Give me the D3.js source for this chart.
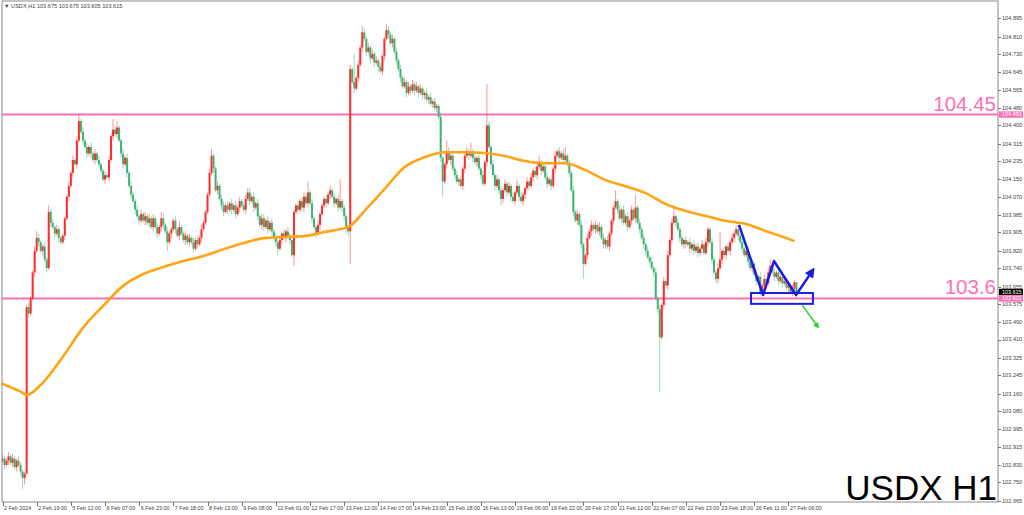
<!DOCTYPE html>
<html>
<head>
<meta charset="utf-8">
<script src="https://cdnjs.cloudflare.com/ajax/libs/d3/7.8.5/d3.min.js"></script>
<style>
  body { margin: 0; background: #fff; }
  svg { display: block; font-family: "Liberation Sans", Arial, sans-serif; }
</style>
</head>
<body>
<svg id="chart" width="1024" height="515"></svg>
<script>
// hourly closes (bar 0 = 2 Feb 2024)
var closes = [
  102.86,102.83,102.85,102.87,102.84,102.86,102.82,102.85,102.83,102.80,
  102.77,102.79,103.56,103.53,103.60,103.72,103.82,103.88,103.86,103.82,
  103.84,103.78,103.74,104.00,103.95,103.93,103.90,103.92,103.88,103.86,
  103.89,103.97,104.07,104.12,104.18,104.24,104.22,104.33,104.42,104.37,
  104.33,104.30,104.27,104.30,104.27,104.24,104.27,104.24,104.22,104.19,
  104.15,104.17,104.16,104.24,104.35,104.38,104.36,104.39,104.33,104.27,
  104.22,104.25,104.18,104.12,104.08,104.05,104.01,103.98,103.96,103.99,
  103.96,103.98,103.95,103.97,103.93,103.97,103.93,103.90,103.93,103.97,
  103.94,103.91,103.86,103.90,103.92,103.96,103.92,103.89,103.93,103.90,
  103.87,103.89,103.86,103.88,103.86,103.83,103.87,103.85,103.88,103.92,
  103.95,104.00,104.08,104.18,104.26,104.20,104.10,104.12,104.06,104.03,
  104.00,104.03,104.01,104.04,104.01,104.03,103.99,104.02,104.05,104.03,
  104.01,104.06,104.09,104.05,104.07,104.02,104.04,103.98,103.94,103.97,
  103.93,103.96,103.92,103.95,103.91,103.88,103.86,103.83,103.87,103.90,
  103.88,103.91,103.89,103.87,103.80,104.00,104.03,104.01,104.05,104.02,
  104.07,104.04,104.09,104.04,103.97,103.93,103.90,103.94,103.99,104.03,
  104.06,104.04,104.08,104.10,104.07,104.04,104.06,104.02,104.05,104.02,
  103.98,103.93,103.91,104.66,104.60,104.57,104.62,104.68,104.76,104.83,
  104.80,104.74,104.76,104.71,104.73,104.69,104.70,104.67,104.65,104.72,
  104.80,104.84,104.82,104.78,104.80,104.74,104.70,104.66,104.62,104.58,
  104.60,104.55,104.58,104.56,104.59,104.56,104.58,104.55,104.57,104.54,
  104.55,104.52,104.53,104.50,104.51,104.48,104.49,104.44,104.25,104.14,
  104.22,104.28,104.24,104.26,104.20,104.17,104.14,104.15,104.12,104.20,
  104.26,104.28,104.26,104.28,104.25,104.23,104.25,104.20,104.17,104.13,
  104.23,104.40,104.30,104.22,104.17,104.12,104.15,104.10,104.06,104.10,
  104.13,104.09,104.12,104.07,104.05,104.09,104.12,104.07,104.05,104.08,
  104.11,104.14,104.12,104.16,104.19,104.17,104.21,104.23,104.19,104.21,
  104.16,104.13,104.15,104.12,104.20,104.26,104.28,104.25,104.27,104.24,
  104.26,104.22,104.18,104.10,104.00,103.96,103.99,103.94,103.85,103.76,
  103.80,103.88,103.91,103.94,103.92,103.94,103.91,103.93,103.88,103.85,
  103.87,103.84,103.90,103.96,104.02,104.05,104.01,103.97,104.01,103.95,
  103.98,103.93,103.96,104.01,103.97,104.02,103.95,103.92,103.88,103.85,
  103.82,103.79,103.77,103.74,103.72,103.60,103.55,103.42,103.57,103.68,
  103.66,103.80,103.87,103.95,103.98,103.95,103.92,103.88,103.85,103.87,
  103.85,103.86,103.83,103.85,103.82,103.84,103.81,103.83,103.85,103.81,
  103.86,103.92,103.86,103.78,103.72,103.69,103.74,103.78,103.82,103.80,
  103.84,103.82,103.86,103.88,103.90,103.92,103.89,103.86,103.83,103.80,
  103.82,103.77,103.74,103.76,103.71,103.68,103.70,103.63,103.66,103.69,
  103.67,103.72,103.75,103.72,103.70,103.72,103.68,103.70,103.67,103.68,
  103.65,103.66,103.63,103.645,103.675,103.615
];
var firstOpen = 102.85;
// wick lengths per bar, one base-36 digit each, in 0.01
var upWick =
  "2112121121" + "1112112321" + "1213121211" + "1112121231" + "2121212121" +
  "1212152311" + "2121211212" + "1212121213" + "2121112131" + "1212121212" +
  "1112311212" + "2121212121" + "1222121212" + "2121212121" + "2121011212" +
  "2151211211" + "12121212a1" + "11121d1213" + "2121212121" + "1321212121" +
  "2121212121" + "1212121121" + "1521212121" + "1214121212" + "1j21212121" +
  "2121213121" + "1212121312" + "1212121212" + "4121212121" + "1212121212" +
  "1211151212" + "1212161212" + "1212121212" + "1212512121" + "2121212121" +
  "2112112d12" + "1212122121" + "1212121212" + "1231212121" + "121210";
var downWick =
  "1212121212" + "5302112121" + "2121212121" + "1212121211" + "2121212121" +
  "1212121212" + "2121212121" + "1212121212" + "2141212121" + "1212121212" +
  "1111121212" + "2121212121" + "1212121212" + "2121212312" + "1212151212" +
  "2121212121" + "1212121212" + "232f121212" + "1212121212" + "2121212121" +
  "1212121212" + "2121212127" + "1212121212" + "2121212121" + "1212121232" +
  "1212121212" + "2121212121" + "1212121212" + "2121212127" + "1212121212" +
  "2121212121" + "1212121212" + "2121212p12" + "1212121212" + "2121212121" +
  "1212122121" + "2121212121" + "1212121212" + "2121212121" + "121211";

var timeLabels = ["2 Feb 2024","2 Feb 19:00","5 Feb 12:00","6 Feb 07:00","6 Feb 23:00",
  "7 Feb 18:00","8 Feb 13:00","9 Feb 08:00","12 Feb 01:00","12 Feb 17:00","13 Feb 12:00",
  "14 Feb 07:00","14 Feb 23:00","15 Feb 18:00","16 Feb 13:00","19 Feb 06:00","19 Feb 22:00",
  "20 Feb 17:00","21 Feb 12:00","22 Feb 07:00","22 Feb 23:00","23 Feb 18:00","26 Feb 11:00",
  "27 Feb 06:00"];
var barsPerLabel = 17;

var priceTicks = [104.895,104.810,104.730,104.645,104.565,104.480,104.400,104.315,104.235,
  104.150,104.070,103.985,103.905,103.820,103.740,103.655,103.575,103.490,103.410,103.325,
  103.245,103.160,103.080,102.995,102.915,102.830,102.750,102.665];

var levels = [104.45, 103.6];
var levelNames = ["104.45", "103.6"];
var lastPrice = 103.615;
var header = "USDX,H1  103.675 103.675 103.605 103.615";
var title = "USDX H1";

// moving average, read at sample bars
var maBars = [-1.25,0,10,12,20,30,40,50,60,70,80,90,100,110,120,130,140,150,160,170,173,
  180,190,200,210,220,230,240,250,260,270,280,290,300,310,320,330,340,350,360,370,380,390,394];
var maValues = [103.210,103.205,103.164,103.154,103.210,103.330,103.464,103.565,103.658,
  103.713,103.745,103.773,103.796,103.828,103.856,103.879,103.884,103.888,103.907,103.925,
  103.935,104.004,104.105,104.207,104.253,104.276,104.276,104.272,104.258,104.235,104.225,
  104.225,104.193,104.147,104.119,104.087,104.036,104.004,103.981,103.958,103.944,103.911,
  103.879,103.865];

// hand drawn pattern
var patternBars = [366.4, 378.4, 383.8, 394.8, 403.2];
var patternPrices = [103.94, 103.616, 103.773, 103.616, 103.731];
var boxBars = [372.4, 403.2];
var boxPrices = [103.625, 103.575];
var arrowBars = [397.8, 405.7];
var arrowPrices = [103.570, 103.468];

var svg = d3.select("#chart");
var pL = 2, pR = 998, pT = 1, pB = 502;

var x = d3.scaleLinear().domain([0, barsPerLabel]).range([2.5, 2.5 + 34.17]);
var y = d3.scaleLinear().domain([102.665, 104.895]).range([500.7, 18.3]);

var bars = closes.map(function(c, i) {
  var o = i === 0 ? firstOpen : closes[i - 1];
  return {
    i: i, o: o, c: c,
    h: Math.max(o, c) + parseInt(upWick[i], 36) / 100,
    l: Math.min(o, c) - parseInt(downWick[i], 36) / 100
  };
});

var defs = svg.append("defs");
defs.append("clipPath").attr("id", "plotclip")
  .append("rect").attr("x", pL).attr("y", pT)
  .attr("width", pR - pL).attr("height", pB - pT);
[["blueHead", "#1c1ce0"], ["greenHead", "#2fcf2f"]].forEach(function(m) {
  defs.append("marker").attr("id", m[0])
    .attr("viewBox", "0 0 10 10").attr("refX", 7).attr("refY", 5)
    .attr("markerWidth", 4).attr("markerHeight", 4).attr("orient", "auto")
    .append("path").attr("d", "M0,0 L10,5 L0,10 z").attr("fill", m[1]);
});

var plot = svg.append("g").attr("clip-path", "url(#plotclip)");

// level lines
plot.selectAll(".level").data(levels).enter().append("line")
  .attr("x1", pL).attr("x2", pR)
  .attr("y1", d => y(d)).attr("y2", d => y(d))
  .attr("stroke", "#ff6fb5").attr("stroke-width", 2);

// candles
var up = "#ff2a2a", down = "#3cb371";
var cg = plot.selectAll(".bar").data(bars).enter().append("g");
cg.append("line")
  .attr("x1", d => x(d.i)).attr("x2", d => x(d.i))
  .attr("y1", d => y(d.h)).attr("y2", d => y(d.l))
  .attr("stroke", d => d.c >= d.o ? up : down)
  .attr("stroke-opacity", 0.5).attr("stroke-width", 1);
cg.append("rect")
  .attr("x", d => x(d.i) - 1).attr("width", 2)
  .attr("y", d => y(Math.max(d.o, d.c)))
  .attr("height", d => Math.max(0.8, Math.abs(y(d.o) - y(d.c))))
  .attr("fill", d => d.c >= d.o ? up : down);

// moving average
plot.append("path")
  .datum(maBars.map((b, k) => [b, maValues[k]]))
  .attr("d", d3.line().x(d => x(d[0])).y(d => y(d[1])).curve(d3.curveMonotoneX))
  .attr("fill", "none").attr("stroke", "#ffa414").attr("stroke-width", 2.6);

// pattern annotation
plot.append("rect")
  .attr("x", x(boxBars[0])).attr("y", y(boxPrices[0]))
  .attr("width", x(boxBars[1]) - x(boxBars[0]))
  .attr("height", y(boxPrices[1]) - y(boxPrices[0]))
  .attr("fill", "none").attr("stroke", "#1c1ce0").attr("stroke-width", 2);
plot.append("path")
  .datum(patternBars.map((b, k) => [b, patternPrices[k]]))
  .attr("d", d3.line().x(d => x(d[0])).y(d => y(d[1])))
  .attr("fill", "none").attr("stroke", "#1c1ce0").attr("stroke-width", 2.5)
  .attr("stroke-linejoin", "round").attr("marker-end", "url(#blueHead)");
plot.append("path")
  .datum(arrowBars.map((b, k) => [b, arrowPrices[k]]))
  .attr("d", d3.line().x(d => x(d[0])).y(d => y(d[1])))
  .attr("fill", "none").attr("stroke", "#2fcf2f").attr("stroke-width", 1.5)
  .attr("marker-end", "url(#greenHead)");

// frame
svg.append("rect").attr("x", pL).attr("y", pT)
  .attr("width", pR - pL).attr("height", pB - pT)
  .attr("fill", "none").attr("stroke", "#8a8a8a").attr("stroke-width", 1);

// price axis
var ya = svg.append("g");
ya.selectAll("line").data(priceTicks).enter().append("line")
  .attr("x1", pR).attr("x2", pR + 3)
  .attr("y1", d => Math.round(y(d)) + 0.5).attr("y2", d => Math.round(y(d)) + 0.5)
  .attr("stroke", "#777");
ya.selectAll("text").data(priceTicks).enter().append("text")
  .attr("x", pR + 4).attr("y", d => y(d)).attr("dy", "0.35em")
  .attr("font-size", 5.6).attr("fill", "#444")
  .text(d => d.toFixed(3));

// price tags (shift: nudges the tag so stacked tags stay readable)
function tag(price, bg, fg, shift) {
  var cy = y(price) + shift;
  var g = svg.append("g");
  g.append("rect").attr("x", pR + 1).attr("y", cy - 3.2)
    .attr("width", 24).attr("height", 6.4).attr("fill", bg);
  g.append("text").attr("x", pR + 4).attr("y", cy).attr("dy", "0.35em")
    .attr("font-size", 5.4).attr("fill", fg).text(price.toFixed(3));
}
tag(lastPrice, "#000", "#fff", -3.2);
levels.forEach(function(l) { tag(l, "#ff6fb5", "#fff", 0); });

// time axis
var xa = svg.append("g");
var tickBars = timeLabels.map((t, k) => k * barsPerLabel);
xa.selectAll("line").data(tickBars).enter().append("line")
  .attr("x1", d => Math.round(x(d)) + 0.5).attr("x2", d => Math.round(x(d)) + 0.5)
  .attr("y1", pB).attr("y2", pB + 4).attr("stroke", "#777");
xa.selectAll("text").data(timeLabels).enter().append("text")
  .attr("x", (d, k) => x(tickBars[k]) + 1.5).attr("y", pB + 8)
  .attr("font-size", 5.4).attr("fill", "#444").text(d => d);

// header
svg.append("text").attr("x", 4).attr("y", 8).attr("font-size", 5.6).attr("fill", "#444")
  .text("\u25BC " + header);

// level labels and title
svg.selectAll(".lvl").data(levels).enter().append("text")
  .attr("x", 996).attr("y", d => y(d) - 4).attr("text-anchor", "end")
  .attr("font-size", 20.5).attr("fill", "#ff6fb5")
  .text((d, k) => levelNames[k]);
svg.append("text").attr("x", 997).attr("y", 500).attr("text-anchor", "end")
  .attr("font-size", 35).attr("fill", "#000")
  .text(title);
</script>
</body>
</html>
